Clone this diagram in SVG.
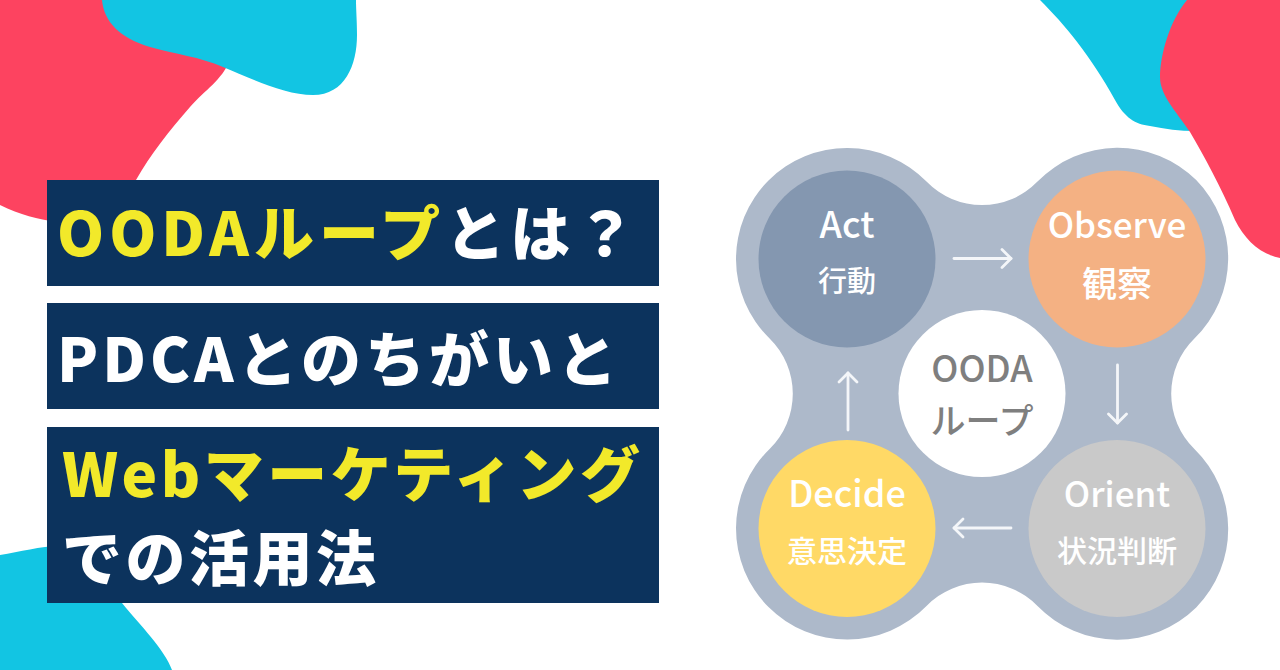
<svg xmlns="http://www.w3.org/2000/svg" width="1280" height="670" viewBox="0 0 1280 670">
<style>
.red{fill:#fd4360}.cyan{fill:#12c5e3}
.band{fill:#0c335d}
.t{font-family:"Noto Sans CJK JP","Noto Sans",sans-serif;font-weight:900;font-size:60px;fill:#fff}
.y{fill:#f2e92a}
.l{font-family:"Noto Sans CJK JP","Noto Sans",sans-serif;font-weight:500;fill:#fff;text-anchor:middle}
.c{fill:#7f7f7f}
.a{fill:none;stroke:#f4f6f9;stroke-width:2.8;stroke-linecap:round;stroke-linejoin:round}
</style>
<defs><marker id="h" markerWidth="14" markerHeight="22" refX="11" refY="11" orient="auto" markerUnits="userSpaceOnUse"><path d="M2 2L11 11L2 20" fill="none" stroke="#f4f6f9" stroke-width="2.8" stroke-linecap="round" stroke-linejoin="round"/></marker></defs>
<rect width="1280" height="670" fill="#fff"/>
<g id="blobs">
<path class="red" d="M0 0H230V60C222 80 205 90 190 107C170 130 150 155 136 180L100 225C75 223 40 225 0 205Z"/>
<path class="cyan" d="M102 0C104 22 120 38 150 47C175 54 200 57 223 67C250 78 285 95 313 95C345 95 357 65 357 35C357 20 356 10 356 0Z"/>
<path class="cyan" d="M1040 0C1065 25 1090 55 1115 100C1125 118 1135 124 1150 126C1165 129 1180 131 1195 131L1230 0Z"/>
<path class="red" d="M1187 0C1170 20 1160 55 1160 77C1160 95 1175 110 1190 132C1205 158 1220 185 1235 220C1245 240 1260 254 1280 258V0Z"/>
<path class="cyan" d="M0 555C20 552 40 546 60 546L122 603C140 625 165 650 172 670H0Z"/>
</g>
<g id="title">
<rect class="band" x="47" y="180" width="612" height="106"/>
<rect class="band" x="47" y="303" width="612" height="106"/>
<rect class="band" x="47" y="427" width="612" height="176"/>
<text class="t" x="57" y="256" letter-spacing="5"><tspan class="y">OODAループ</tspan>とは？</text>
<text class="t" x="57" y="382" letter-spacing="4">PDCAとのちがいと</text>
<text class="t" x="62" y="497" letter-spacing="3.500"><tspan class="y">Webマーケティング</tspan></text>
<text class="t" x="62" y="581" letter-spacing="3.500">での活用法</text>
</g>
<path id="backing" fill="#adb9ca" d="M926.500 181.600A77.400 77.400 0 0 0 1037.500 181.600A112 112 0 0 1 1196.200 180A112 112 0 0 1 1194.400 338.500A77.400 77.400 0 0 0 1194.400 449A112 112 0 0 1 1196.200 607.500A112 112 0 0 1 1037.500 606A77.400 77.400 0 0 0 926.500 606A111 111 0 0 1 768.500 607A111 111 0 0 1 769.600 449A77.400 77.400 0 0 0 769.600 338.500A111 111 0 0 1 768.500 180.500A111 111 0 0 1 926.500 181.600Z"/>
<g id="connectors">
<path class="a" d="M954 258.500H1011" marker-end="url(#h)"/>
<path class="a" d="M1117.500 365V423" marker-end="url(#h)"/>
<path class="a" d="M1011 528H954" marker-end="url(#h)"/>
<path class="a" d="M848 430V373" marker-end="url(#h)"/>
</g>
<g id="act"><circle cx="847" cy="259" r="88.500" fill="#8497b0"/><text class="l" x="847" y="238" font-size="36">Act</text><text class="l" x="847" y="292" font-size="29">行動</text></g>
<g id="observe"><circle cx="1117" cy="259" r="88.500" fill="#f4b183"/><text class="l" x="1117" y="238" font-size="35">Observe</text><text class="l" x="1117" y="297" font-size="35">観察</text></g>
<g id="orient"><circle cx="1117" cy="528.500" r="88.500" fill="#c9c9c9"/><text class="l" x="1117" y="507" font-size="35">Orient</text><text class="l" x="1117" y="562" font-size="30">状況判断</text></g>
<g id="decide"><circle cx="847" cy="528.500" r="88.500" fill="#ffd966"/><text class="l" x="847" y="507" font-size="36">Decide</text><text class="l" x="847" y="562" font-size="30">意思決定</text></g>
<g id="center"><circle cx="982" cy="393.500" r="83.500" fill="#fff"/><text class="l c" x="982" y="382" font-size="36">OODA</text><text class="l c" x="982" y="434" font-size="35">ループ</text></g>
</svg>
